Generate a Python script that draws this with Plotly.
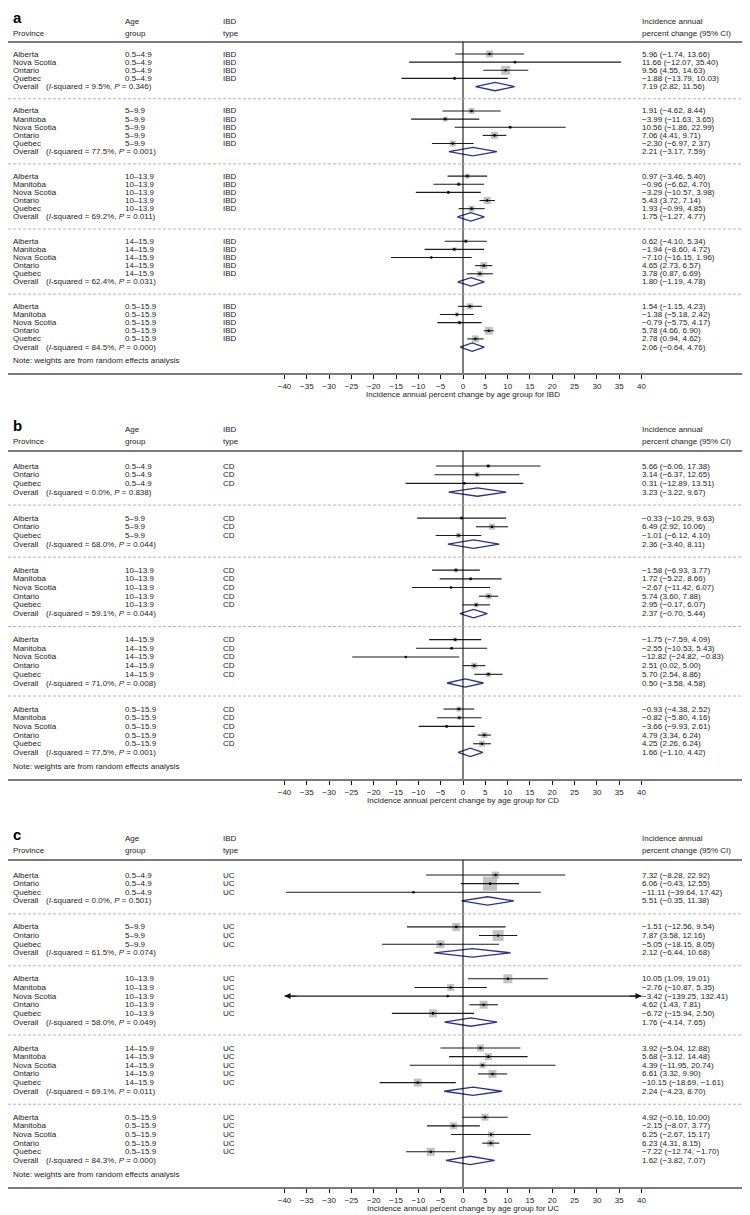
import plotly.graph_objects as go

# ---------------- data ----------------
a_province = ["Alberta", "Nova Scotia", "Ontario", "Quebec",
              "Alberta", "Manitoba", "Nova Scotia", "Ontario", "Quebec",
              "Alberta", "Manitoba", "Nova Scotia", "Ontario", "Quebec",
              "Alberta", "Manitoba", "Nova Scotia", "Ontario", "Quebec",
              "Alberta", "Manitoba", "Nova Scotia", "Ontario", "Quebec"]
a_age = ["0.5–4.9"] * 4 + ["5–9.9"] * 5 + ["10–13.9"] * 5 + ["14–15.9"] * 5 + ["0.5–15.9"] * 5
a_est = [5.96, 11.66, 9.56, -1.88, 1.91, -3.99, 10.56, 7.06, -2.30, 0.97, -0.96, -3.29, 5.43, 1.93,
         0.62, -1.94, -7.10, 4.65, 3.78, 1.54, -1.38, -0.79, 5.78, 2.78]
a_lo = [-1.74, -12.07, 4.55, -13.79, -4.62, -11.63, -1.86, 4.41, -6.97, -3.46, -6.62, -10.57, 3.72, -0.99,
        -4.10, -8.60, -16.15, 2.73, 0.87, -1.15, -5.18, -5.75, 4.66, 0.94]
a_hi = [13.66, 35.40, 14.63, 10.03, 8.44, 3.65, 22.99, 9.71, 2.37, 5.40, 4.70, 3.98, 7.14, 4.85,
        5.34, 4.72, 1.96, 6.57, 6.69, 4.23, 2.42, 4.17, 6.90, 4.62]
a_weight = [7, 1, 9, 3, 6, 5, 3, 7, 6, 5, 4, 3, 7, 6, 4, 4, 2, 7, 6, 6, 4, 4, 8, 7]
a_ov_est = [7.19, 2.21, 1.75, 1.80, 2.06]
a_ov_lo = [2.82, -3.17, -1.27, -1.19, -0.64]
a_ov_hi = [11.56, 7.59, 4.77, 4.78, 4.76]
a_i2 = ["9.5%", "77.5%", "69.2%", "62.4%", "84.5%"]
a_p = ["0.346", "0.001", "0.011", "0.031", "0.000"]

b_province = ["Alberta", "Ontario", "Quebec",
              "Alberta", "Ontario", "Quebec",
              "Alberta", "Manitoba", "Nova Scotia", "Ontario", "Quebec",
              "Alberta", "Manitoba", "Nova Scotia", "Ontario", "Quebec",
              "Alberta", "Manitoba", "Nova Scotia", "Ontario", "Quebec"]
b_age = ["0.5–4.9"] * 3 + ["5–9.9"] * 3 + ["10–13.9"] * 5 + ["14–15.9"] * 5 + ["0.5–15.9"] * 5
b_est = [5.66, 3.14, 0.31, -0.33, 6.49, -1.01, -1.58, 1.72, -2.67, 5.74, 2.95,
         -1.75, -2.55, -12.82, 2.51, 5.70, -0.93, -0.82, -3.66, 4.79, 4.25]
b_lo = [-6.06, -6.37, -12.89, -10.29, 2.92, -6.12, -6.93, -5.22, -11.42, 3.60, -0.17,
        -7.59, -10.53, -24.82, 0.02, 2.54, -4.38, -5.80, -9.93, 3.34, 2.26]
b_hi = [17.38, 12.65, 13.51, 9.63, 10.06, 4.10, 3.77, 8.66, 6.07, 7.88, 6.07,
        4.09, 5.43, -0.83, 5.00, 8.86, 2.52, 4.16, 2.61, 6.24, 6.24]
b_weight = [4, 5, 2, 3, 6, 5, 4, 3, 2, 6, 5, 4, 3, 2, 6, 5, 5, 4, 3, 6, 6]
b_ov_est = [3.23, 2.36, 2.37, 0.50, 1.66]
b_ov_lo = [-3.22, -3.40, -0.70, -3.58, -1.10]
b_ov_hi = [9.67, 8.11, 5.44, 4.58, 4.42]
b_i2 = ["0.0%", "68.0%", "59.1%", "71.0%", "77.5%"]
b_p = ["0.838", "0.044", "0.044", "0.008", "0.001"]

c_province = b_province
c_age = b_age
c_est = [7.32, 6.06, -11.11, -1.51, 7.87, -5.05, 10.05, -2.76, -3.42, 4.62, -6.72,
         3.92, 5.68, 4.39, 6.61, -10.15, 4.92, -2.15, 6.25, 6.23, -7.22]
c_lo = [-8.28, -0.43, -39.64, -12.56, 3.58, -18.15, 1.09, -10.87, -139.25, 1.43, -15.94,
        -5.04, -3.12, -11.95, 3.32, -18.69, -0.16, -8.07, -2.67, 4.31, -12.74]
c_hi = [22.92, 12.55, 17.42, 9.54, 12.16, 8.05, 19.01, 5.35, 132.41, 7.81, 2.50,
        12.88, 14.48, 20.74, 9.90, -1.61, 10.00, 3.77, 15.17, 8.15, -1.70]
c_weight = [7, 14, 2, 8, 11, 8, 9, 7, 1, 8, 8, 7, 7, 6, 8, 8, 7, 7, 6, 7, 8]
c_ov_est = [5.51, 2.12, 1.76, 2.24, 1.62]
c_ov_lo = [-0.35, -6.44, -4.14, -4.23, -3.82]
c_ov_hi = [11.38, 10.68, 7.65, 8.70, 7.07]
c_i2 = ["0.0%", "61.5%", "58.0%", "69.1%", "84.3%"]
c_p = ["0.501", "0.074", "0.049", "0.011", "0.000"]

tick_values = list(range(-40, 45, 5))
AXIS_MIN, AXIS_MAX = -40, 40

# ---------------- layout constants ----------------
W, H = 750, 1215
X0_PX = 455.0
PX_PER_UNIT = 178.5 / 40
FONT = "Liberation Sans Narrow, Arial Narrow, Liberation Sans, Arial, sans-serif"
FS = 8
TXT = "#222222"
SQ = "#a8a8a8"
NAVY = "#2b2f8f"
RULE = "#7a7a7a"

panels = [
    dict(letter="a", kind="IBD", prov=a_province, age=a_age, est=a_est, lo=a_lo, hi=a_hi, wt=a_weight,
         oe=a_ov_est, ol=a_ov_lo, oh=a_ov_hi, i2=a_i2, p=a_p,
         top=0, axis=365, row0=46, pitch=8.14, line=34, letter_px=9, hdr1=13, hdr2=25),
    dict(letter="b", kind="CD", prov=b_province, age=b_age, est=b_est, lo=b_lo, hi=b_hi, wt=b_weight,
         oe=b_ov_est, ol=b_ov_lo, oh=b_ov_hi, i2=b_i2, p=b_p,
         top=400, axis=771, row0=458, pitch=8.68, line=443, letter_px=417, hdr1=421, hdr2=433),
    dict(letter="c", kind="UC", prov=c_province, age=c_age, est=c_est, lo=c_lo, hi=c_hi, wt=c_weight,
         oe=c_ov_est, ol=c_ov_lo, oh=c_ov_hi, i2=c_i2, p=c_p,
         top=805, axis=1179, row0=867, pitch=8.65, line=852, letter_px=826, hdr1=830, hdr2=842),
]


def fmt(v):
    s = f"{abs(v):.2f}"
    return ("−" + s) if v < 0 else s


def ci_text(e, l, h):
    return f"{fmt(e)} ({fmt(l)}, {fmt(h)})"


fig = go.Figure()
annotations = []
shapes = []
layout_axes = {}

for k, P in enumerate(panels, start=1):
    xr = "x" if k == 1 else f"x{k}"
    yr = "y" if k == 1 else f"y{k}"
    xa = "xaxis" if k == 1 else f"xaxis{k}"
    ya = "yaxis" if k == 1 else f"yaxis{k}"
    pitch, row0 = P["pitch"], P["row0"]

    def prow(px, row0=row0, pitch=pitch):
        return (px - row0) / pitch

    # rows
    rows, ov_rows = [], []
    r = 0
    prev = None
    for ag in P["age"]:
        if prev is not None and ag != prev:
            ov_rows.append(r)
            r += 3
        rows.append(r)
        r += 1
        prev = ag
    ov_rows.append(r)

    axis_row = prow(P["axis"])
    line_row = prow(P["line"])

    layout_axes[xa] = dict(domain=[0, 1], anchor=yr,
                           range=[-X0_PX / PX_PER_UNIT, (W - X0_PX) / PX_PER_UNIT],
                           showline=True, linecolor=RULE, linewidth=2, mirror=False,
                           ticks="outside", ticklen=4, tickwidth=1, tickcolor="#111",
                           tickvals=tick_values,
                           ticktext=[("−" + str(-t)) if t < 0 else str(t) for t in tick_values],
                           tickfont=dict(family=FONT, size=FS, color=TXT),
                           showgrid=False, zeroline=False, fixedrange=True)
    layout_axes[ya] = dict(domain=[1 - P["axis"] / H, 1 - P["top"] / H], anchor=xr,
                           range=[axis_row, prow(P["top"])], visible=False,
                           showgrid=False, zeroline=False, fixedrange=True)

    # squares (weights)
    fig.add_trace(go.Scatter(x=P["est"], y=rows, xaxis=xr, yaxis=yr, mode="markers",
                             marker=dict(symbol="square", size=P["wt"], color=SQ, line=dict(width=0)),
                             hoverinfo="skip", cliponaxis=False))
    # CI lines (clipped to axis range)
    xs, ys = [], []
    for l, h, rr in zip(P["lo"], P["hi"], rows):
        xs += [max(l, AXIS_MIN), min(h, AXIS_MAX), None]
        ys += [rr, rr, None]
        if l < AXIS_MIN:
            annotations.append(dict(x=AXIS_MIN, y=rr, xref=xr, yref=yr, ax=AXIS_MIN + 3, ay=rr,
                                    axref=xr, ayref=yr, text="", showarrow=True, arrowhead=2,
                                    arrowsize=1.2, arrowwidth=1, arrowcolor="#111"))
        if h > AXIS_MAX:
            annotations.append(dict(x=AXIS_MAX, y=rr, xref=xr, yref=yr, ax=AXIS_MAX - 3, ay=rr,
                                    axref=xr, ayref=yr, text="", showarrow=True, arrowhead=2,
                                    arrowsize=1.2, arrowwidth=1, arrowcolor="#111"))
    fig.add_trace(go.Scatter(x=xs, y=ys, xaxis=xr, yaxis=yr, mode="lines",
                             line=dict(color="#1a1a1a", width=1.1), hoverinfo="skip"))
    # point dots
    fig.add_trace(go.Scatter(x=P["est"], y=rows, xaxis=xr, yaxis=yr, mode="markers",
                             marker=dict(symbol="circle", size=2.6, color="#000"), hoverinfo="skip"))
    # diamonds
    hh = 4.2 / pitch
    dx, dy = [], []
    for e, l, h, rr in zip(P["oe"], P["ol"], P["oh"], ov_rows):
        dx += [l, e, h, e, l, None]
        dy += [rr, rr - hh, rr, rr + hh, rr, None]
    fig.add_trace(go.Scatter(x=dx, y=dy, xaxis=xr, yaxis=yr, mode="lines",
                             line=dict(color=NAVY, width=1.3), hoverinfo="skip"))

    # shapes
    shapes.append(dict(type="line", xref="paper", yref=yr, x0=0, x1=1, y0=line_row, y1=line_row,
                       line=dict(color=RULE, width=2)))
    shapes.append(dict(type="line", xref=xr, yref=yr, x0=0, x1=0, y0=line_row, y1=axis_row,
                       line=dict(color="#000", width=1)))
    for rr in ov_rows[:-1]:
        shapes.append(dict(type="line", xref="paper", yref=yr, x0=0, x1=1, y0=rr + 1.5, y1=rr + 1.5,
                           line=dict(color="#b5b5b5", width=1, dash="3px,2px")))

    def txt(xpx, yrow, s, yr=yr):
        annotations.append(dict(x=xpx / W, xref="paper", y=yrow, yref=yr, text=s, showarrow=False,
                                xanchor="left", yanchor="middle",
                                font=dict(family=FONT, size=FS, color=TXT), align="left"))

    # header
    annotations.append(dict(x=3 / W, xref="paper", y=prow(P["letter_px"]), yref=yr,
                            text="<b>" + P["letter"] + "</b>",
                            showarrow=False, xanchor="left", yanchor="middle",
                            font=dict(family="Liberation Sans, Arial, sans-serif", size=15, color="#000")))
    txt(115, prow(P["hdr1"]), "Age")
    txt(115, prow(P["hdr2"]), "group")
    txt(3, prow(P["hdr2"]), "Province")
    txt(213, prow(P["hdr1"]), "IBD")
    txt(213, prow(P["hdr2"]), "type")
    txt(632, prow(P["hdr1"]), "Incidence annual")
    txt(632, prow(P["hdr2"]), "percent change (95% CI)")

    for pv, ag, e, l, h, rr in zip(P["prov"], P["age"], P["est"], P["lo"], P["hi"], rows):
        txt(3, rr, pv)
        txt(115, rr, ag)
        txt(213, rr, P["kind"])
        txt(632, rr, ci_text(e, l, h))
    for e, l, h, i2, pv, rr in zip(P["oe"], P["ol"], P["oh"], P["i2"], P["p"], ov_rows):
        txt(3, rr, "Overall")
        txt(36, rr, f"(<i>I</i>-squared = {i2}, <i>P</i> = {pv})")
        txt(632, rr, ci_text(e, l, h))
    txt(3, ov_rows[-1] + 1.6, "Note: weights are from random effects analysis")
    # axis title (paper coordinates so it is not hidden outside the y range)
    annotations.append(dict(x=0, xref=xr, y=1 - (P["axis"] + 21) / H, yref="paper",
                            text=f"Incidence annual percent change by age group for {P['kind']}",
                            showarrow=False, xanchor="center", yanchor="middle",
                            font=dict(family=FONT, size=FS, color=TXT)))

fig.update_layout(width=W, height=H, margin=dict(l=0, r=0, t=0, b=0),
                  paper_bgcolor="white", plot_bgcolor="white", showlegend=False,
                  annotations=annotations, shapes=shapes, **layout_axes)

fig.write_html("out.html")
